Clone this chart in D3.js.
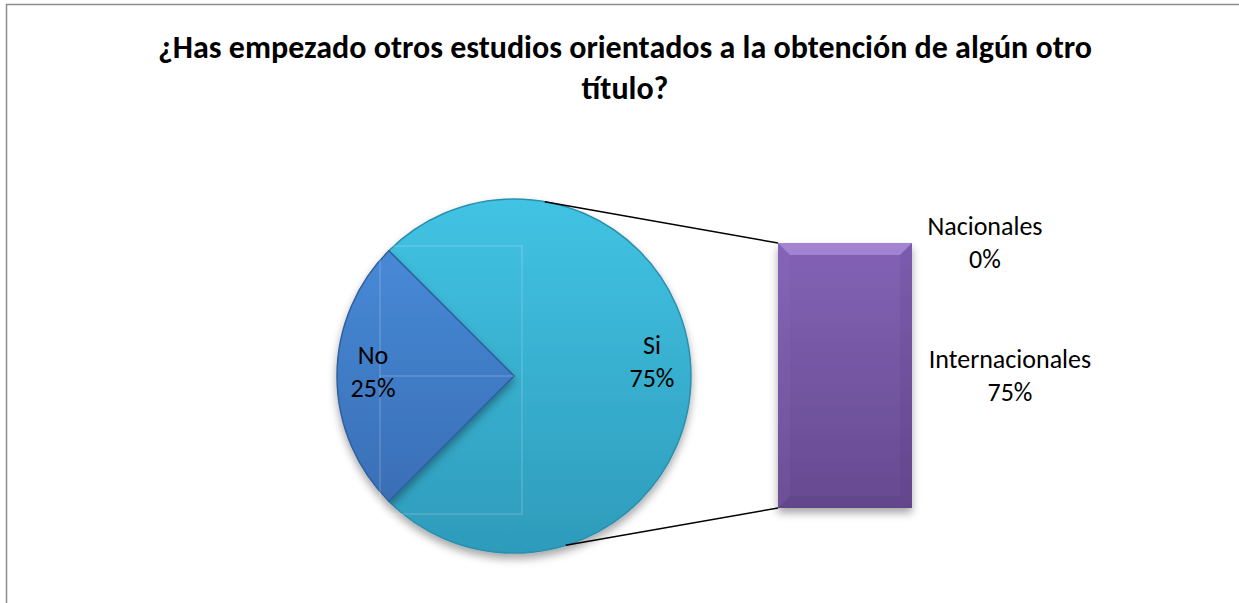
<!DOCTYPE html>
<html>
<head>
<meta charset="utf-8">
<script src="https://cdn.jsdelivr.net/npm/d3@7"></script>
<style>
  body { margin: 0; background: #fff; }
  text { font-family: Carlito, "Liberation Sans Narrow", "Open Sans", sans-serif; }
</style>
</head>
<body>
<div id="chart"></div>
<script>
// Data
const pieCategories = ["Si", "No"];
const pieValues = [75, 25];
const barCategories = ["Internacionales", "Nacionales"];
const barValues = [75, 0];
const titleLines = ["¿Has empezado otros estudios orientados a la obtención de algún otro", "título?"];

const W = 1239, H = 603;
const cx = 514, cy = 376, r = 177;

const svg = d3.select("#chart").append("svg")
    .attr("width", W)
    .attr("height", H);

const defs = svg.append("defs");

// gradients
function vGrad(id, c1, c2) {
    const g = defs.append("linearGradient").attr("id", id)
        .attr("x1", 0).attr("y1", 0).attr("x2", 0).attr("y2", 1);
    g.append("stop").attr("offset", "0%").attr("stop-color", c1);
    g.append("stop").attr("offset", "100%").attr("stop-color", c2);
}
vGrad("gSi", "#42c3e3", "#2e9bbb");
vGrad("gNo", "#4789d6", "#3a6fb6");
vGrad("gBar", "#8262b6", "#664a8f");

const shadow = defs.append("filter").attr("id", "shadow")
    .attr("x", "-20%").attr("y", "-20%").attr("width", "140%").attr("height", "140%");
shadow.append("feDropShadow")
    .attr("dx", 0).attr("dy", 5).attr("stdDeviation", 4)
    .attr("flood-color", "#000").attr("flood-opacity", 0.35);

// Frame
svg.append("path")
    .attr("d", `M6.5,${H} V4.5 H${W}`)
    .attr("fill", "none")
    .attr("stroke", "#8c8c8c")
    .attr("stroke-width", 1.5);

// Title
svg.append("text")
    .attr("x", 625)
    .attr("y", 58)
    .attr("text-anchor", "middle")
    .style("font-size", "32px")
    .style("font-weight", "bold")
    .selectAll("tspan")
    .data(titleLines)
    .join("tspan")
    .attr("x", 625)
    .attr("dy", (d, i) => i === 0 ? 0 : 41)
    .text(d => d);

// Pie
const pie = d3.pie()
    .sort(null)
    .startAngle(-Math.PI / 4)
    .endAngle(Math.PI * 7 / 4);
const arcs = pie(pieValues);
const arc = d3.arc().innerRadius(0).outerRadius(r);

const pg = svg.append("g").attr("transform", `translate(${cx},${cy})`);
pg.selectAll("path.slice")
    .data(arcs)
    .join("path")
    .attr("class", "slice")
    .attr("d", arc)
    .attr("fill", (d, i) => i === 0 ? "url(#gSi)" : "url(#gNo)")
    .attr("stroke", (d, i) => i === 0 ? "#2b8fae" : "#2f5e9e")
    .attr("stroke-width", 1.5)
    .attr("filter", "url(#shadow)");

// faint artifact rectangle
pg.append("rect")
    .attr("x", -134).attr("y", -130)
    .attr("width", 142).attr("height", 268)
    .attr("fill", "none")
    .attr("stroke", "#ffffff")
    .attr("stroke-opacity", 0.25)
    .attr("stroke-width", 1);
pg.append("line")
    .attr("x1", -134).attr("x2", 0).attr("y1", 0).attr("y2", 0)
    .attr("stroke", "#ffffff").attr("stroke-opacity", 0.25);

// pie labels
const pieLabelPos = [[138, -22], [-141, -12]];
arcs.forEach((d, i) => {
    const t = pg.append("text")
        .attr("text-anchor", "middle")
        .style("font-size", "26px")
        .attr("fill", "#000");
    t.append("tspan").attr("x", pieLabelPos[i][0]).attr("y", pieLabelPos[i][1]).text(pieCategories[i]);
    t.append("tspan").attr("x", pieLabelPos[i][0]).attr("dy", 33).text(pieValues[i] + "%");
});

// Bar
const barX = 778, barW = 134;
const stackTotal = d3.sum(barValues);
const y = d3.scaleLinear().domain([0, stackTotal]).range([508, 243]);

let acc = 0;
const stacked = barValues.map((v, i) => {
    const s = { cat: barCategories[i], v, y0: acc, y1: acc + v };
    acc += v;
    return s;
});

// connector lines
const aTop = 10 * Math.PI / 180, aBot = 163 * Math.PI / 180;
svg.append("line")
    .attr("x1", cx + r * Math.sin(aTop)).attr("y1", cy - r * Math.cos(aTop))
    .attr("x2", barX).attr("y2", y(stackTotal))
    .attr("stroke", "#000").attr("stroke-width", 1.5);
svg.append("line")
    .attr("x1", cx + r * Math.sin(aBot)).attr("y1", cy - r * Math.cos(aBot))
    .attr("x2", barX).attr("y2", y(0))
    .attr("stroke", "#000").attr("stroke-width", 1.5);

const bg = svg.append("g");
stacked.forEach(s => {
    if (s.v <= 0) return;
    const y0 = y(s.y1), h = y(s.y0) - y(s.y1);
    bg.append("rect")
        .attr("x", barX).attr("y", y0)
        .attr("width", barW).attr("height", h)
        .attr("fill", "url(#gBar)")
        .attr("filter", "url(#shadow)");
    // bevel highlights
    const b = 12;
    bg.append("path")
        .attr("d", `M${barX},${y0} H${barX + barW} L${barX + barW - b},${y0 + b} H${barX + b} Z`)
        .attr("fill", "#c4a6f0").attr("opacity", 0.5);
    bg.append("path")
        .attr("d", `M${barX},${y0} L${barX + b},${y0 + b} V${y0 + h - b} L${barX},${y0 + h} Z`)
        .attr("fill", "#9a7cd0").attr("opacity", 0.12);
    bg.append("path")
        .attr("d", `M${barX + barW},${y0} L${barX + barW - b},${y0 + b} V${y0 + h - b} L${barX + barW},${y0 + h} Z`)
        .attr("fill", "#4a3470").attr("opacity", 0.12);
    bg.append("path")
        .attr("d", `M${barX},${y0 + h} L${barX + b},${y0 + h - b} H${barX + barW - b} L${barX + barW},${y0 + h} Z`)
        .attr("fill", "#4a3470").attr("opacity", 0.15);
});

// bar labels
const barLabelPos = { "Nacionales": [985, 235], "Internacionales": [1010, 368] };
stacked.forEach(s => {
    const p = barLabelPos[s.cat];
    const t = svg.append("text")
        .attr("text-anchor", "middle")
        .style("font-size", "26px")
        .attr("fill", "#000");
    t.append("tspan").attr("x", p[0]).attr("y", p[1]).text(s.cat);
    t.append("tspan").attr("x", p[0]).attr("dy", 33).text(s.v + "%");
});
</script>
</body>
</html>
